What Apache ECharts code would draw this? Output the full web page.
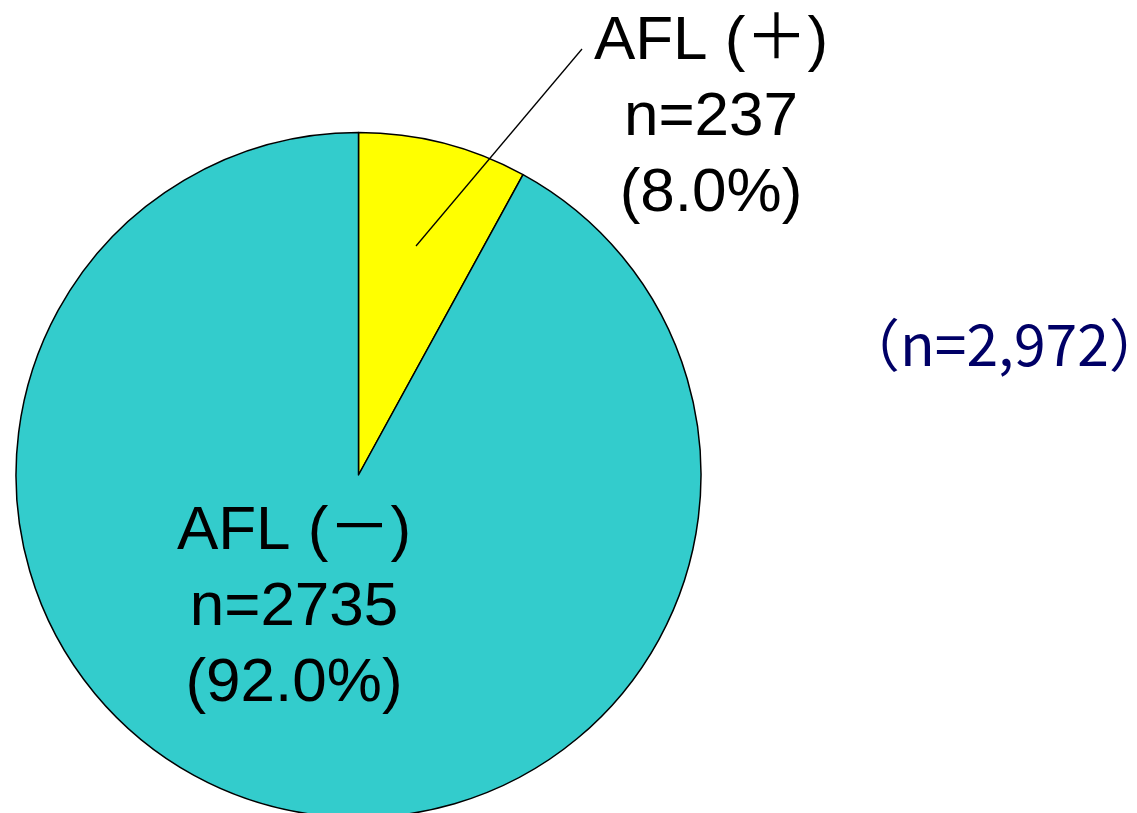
<!DOCTYPE html>
<html>
<head>
<meta charset="utf-8">
<script src="https://cdn.jsdelivr.net/npm/echarts@6/dist/echarts.min.js"></script>
<style>
html, body { margin: 0; padding: 0; background: #fff; }
#main { width: 1137px; height: 813px; }
</style>
</head>
<body>
<div id="main"></div>
<script>
// 数据
var names = ['AFL (＋)', 'AFL (－)'];
var values = [237, 2735];
var colors = ['#ffff00', '#33cccc'];

var total = values.reduce(function (a, b) { return a + b; }, 0);

var myChart = echarts.init(document.getElementById('main'));

var dataList = names.map(function (n, i) {
	return {
		name: n,
		value: values[i],
		itemStyle: { color: colors[i] }
	};
});

// 标签位置
function labelPos(params) {
	if (params.dataIndex === 0) {
		return { x: 711, y: 118, align: 'center', verticalAlign: 'middle' };
	}
	return { x: 294, y: 608, align: 'center', verticalAlign: 'middle' };
}

var option = {
	animation: false,
	title: {
		text: '（n=' + total.toLocaleString('en-US') + '）',
		left: 838,
		top: 311,
		textStyle: {
			fontFamily: 'Noto Sans CJK JP',
			fontSize: 57,
			fontWeight: 'normal',
			color: '#000066'
		}
	},
	//引出线
	graphic: [{
		type: 'line',
		z: 100,
		shape: { x1: 416, y1: 246, x2: 582, y2: 49 },
		style: { stroke: '#000', lineWidth: 1.3 }
	}],
	series: [{
		type: 'pie',
		center: [358.5, 475],
		radius: 342.5,
		startAngle: 90,
		clockwise: true,
		silent: true,
		itemStyle: {
			borderColor: '#000',
			borderWidth: 1.5
		},
		label: {
			show: true,
			position: 'outside',
			overflow: 'none',
			width: 400,
			fontFamily: 'Liberation Sans, Noto Sans CJK JP',
			fontSize: 62,
			lineHeight: 76,
			color: '#000',
			formatter: function (p) {
				return p.name + '\nn=' + p.value + '\n(' + (p.value / total * 100).toFixed(1) + '%)';
			}
		},
		labelLine: { show: false },
		labelLayout: labelPos,
		data: dataList
	}]
};

myChart.setOption(option);
</script>
</body>
</html>
